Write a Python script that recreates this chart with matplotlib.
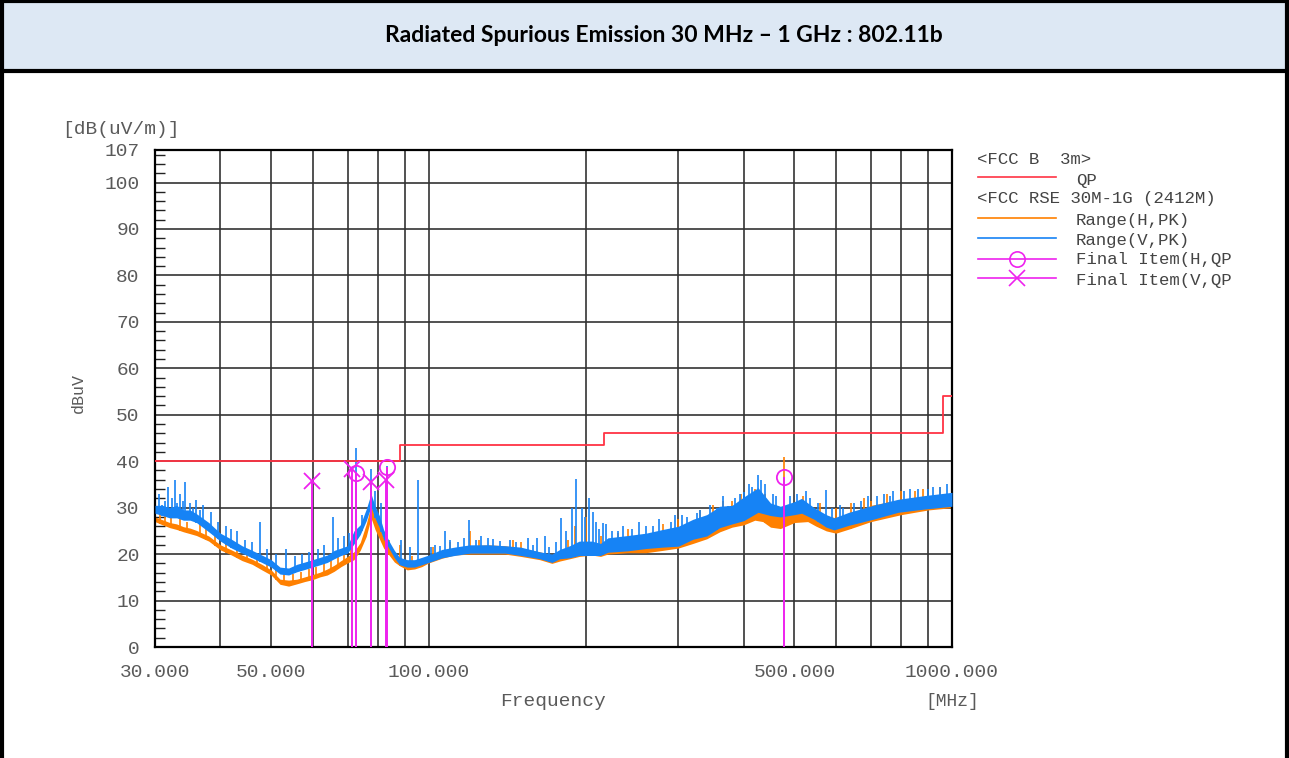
import matplotlib.pyplot as plt
import numpy as np
from matplotlib.lines import Line2D
from matplotlib.patches import Rectangle

# ---- limit line (FCC B 3m, QP) ----
lim_f = [30, 88, 216, 960, 1000]
lim_v = [40, 43.5, 46, 54, 54]

# ---- Range(H,PK) trace envelope ----
f_h = [30, 31, 32, 33, 34, 35, 36, 38, 40, 42, 44, 46, 48, 50, 52, 54, 56, 58, 60,
       62, 64, 66, 68, 70, 72, 74, 76, 77.6, 79, 80.5, 82, 84, 86, 88, 91, 94, 97,
       100, 106, 112, 120, 130, 140, 150, 163, 172, 178, 186, 194, 205, 213, 220,
       240, 260, 280, 300, 320, 340, 360, 380, 400, 420, 435, 450, 470, 500, 530,
       550, 575, 600, 640, 700, 800, 900, 1000]
lo_h = [27.0, 26.3, 25.7, 25.3, 24.8, 24.4, 24.0, 22.8, 20.9, 19.8, 18.6, 17.8, 16.6,
        15.5, 13.5, 13.1, 13.6, 14.1, 14.5, 15.1, 15.5, 16.3, 17.3, 18.1, 18.8, 20.8,
        23.8, 27.8, 25.3, 23.3, 21.3, 19.8, 18.3, 17.5, 16.6, 16.8, 17.3, 18.1, 19.1,
        19.8, 20.0, 20.0, 20.0, 19.5, 18.8, 18.0, 18.5, 19.0, 19.5, 19.8, 19.5, 20.0,
        20.3, 20.3, 20.8, 21.3, 22.3, 23.3, 24.8, 25.8, 26.3, 27.3, 27.0, 25.8, 25.5,
        26.8, 27.0, 26.0, 25.0, 24.5, 25.5, 27.0, 28.5, 29.5, 30.0]
hi_h = [28.0, 27.4, 26.8, 26.5, 25.9, 25.6, 25.1, 23.9, 22.0, 20.9, 19.8, 18.9, 17.8,
        16.6, 14.6, 14.4, 14.6, 15.1, 15.6, 16.1, 16.8, 17.6, 18.6, 19.5, 20.5, 22.5,
        26.5, 30.5, 28.0, 26.0, 23.5, 21.5, 20.0, 19.0, 18.0, 18.3, 18.5, 19.3, 20.5,
        21.2, 21.8, 22.0, 21.8, 21.3, 20.5, 19.8, 20.5, 21.3, 22.3, 22.3, 22.0, 23.0,
        23.5, 24.0, 24.5, 25.5, 26.8, 27.8, 29.3, 30.3, 31.3, 32.0, 31.7, 30.0, 29.0,
        30.5, 30.8, 29.5, 28.3, 27.8, 28.8, 30.5, 31.8, 32.5, 33.0]
spk_h_f = [30.7, 31.4, 32.2, 33.5, 34.6, 36.5, 37.5, 39, 41, 43, 45, 47, 49, 51, 53,
           55, 57, 59, 61, 63, 65, 67, 69, 71, 77.6, 84, 88, 93, 102, 110, 120, 125,
           145, 150, 185, 190, 200, 213, 230, 240, 280, 300, 330, 350, 365, 380, 395,
           420, 440, 477, 520, 560, 600, 640, 680, 700, 750, 800, 850, 880, 950, 1000]
spk_h_v = [29.2, 28.8, 28.0, 27.5, 27.0, 26.3, 25.8, 24.8, 22.5, 21.8, 20.5, 19.8,
           18.8, 17.5, 16.0, 15.8, 16.2, 16.8, 17.3, 17.8, 18.5, 19.5, 20.5, 21.5,
           31.5, 23.0, 22.0, 19.5, 21.5, 22.5, 25.0, 23.0, 23.0, 22.5, 23.0, 26.0,
           28.0, 24.0, 24.5, 25.5, 26.5, 27.5, 29.5, 30.5, 31.5, 31.5, 33.0, 34.0,
           33.0, 40.9, 32.5, 31.0, 30.0, 31.0, 32.0, 31.5, 33.0, 33.5, 33.5, 34.0,
           34.5, 34.2]

# ---- Range(V,PK) trace envelope ----
f_v = [30, 31, 32, 33, 34, 35, 36, 38, 40, 42, 44, 46, 48, 50, 52, 54, 56, 58, 60,
       62, 64, 66, 68, 70, 72, 74, 76, 77.6, 79, 80.5, 82, 84, 86, 88, 91, 94, 97,
       100, 106, 112, 120, 130, 140, 150, 163, 172, 178, 186, 194, 205, 213, 220,
       240, 260, 280, 300, 320, 340, 360, 380, 400, 426, 450, 470, 500, 516, 545,
       575, 595, 635, 707, 789, 886, 1000]
lo_v = [28.8, 28.3, 27.8, 27.8, 27.3, 27.3, 26.8, 24.8, 22.8, 21.3, 20.2, 19.2, 18.2,
        17.2, 15.7, 15.5, 16.2, 16.7, 17.2, 17.7, 18.2, 19.0, 19.7, 20.2, 22.2, 24.2,
        27.2, 30.2, 27.7, 25.7, 23.2, 21.2, 19.2, 17.7, 17.2, 17.2, 17.7, 18.2, 19.2,
        19.7, 20.2, 20.2, 20.2, 19.7, 19.0, 18.2, 19.0, 19.2, 19.7, 19.7, 19.7, 20.4,
        20.7, 21.2, 21.5, 21.7, 23.2, 23.9, 25.7, 26.5, 27.2, 29.0, 28.3, 28.0, 28.5,
        28.8, 27.5, 25.8, 25.2, 26.2, 27.5, 29.0, 29.7, 30.3]
hi_v = [30.5, 30.5, 30.0, 30.5, 29.5, 29.5, 28.7, 26.8, 24.5, 23.2, 21.8, 20.8, 19.8,
        18.8, 17.2, 17.0, 17.8, 18.3, 18.8, 19.3, 19.8, 20.8, 21.3, 21.8, 25.0, 26.3,
        29.7, 33.0, 30.3, 28.3, 25.3, 22.8, 20.8, 19.3, 18.8, 18.8, 19.3, 19.8, 21.0,
        21.5, 22.0, 22.0, 21.8, 21.5, 20.5, 20.0, 21.0, 21.8, 22.8, 22.8, 22.3, 23.5,
        24.0, 24.5, 25.3, 26.0, 27.5, 28.5, 30.3, 30.5, 32.3, 34.3, 31.0, 30.3, 31.3,
        32.0, 30.0, 28.5, 27.8, 29.0, 30.5, 31.8, 32.6, 33.3]
spk_v_f = [30.5, 31.0, 31.3, 31.8, 32.3, 32.7, 33.1, 33.5, 34.0, 34.3, 35.0, 35.5,
           36.0, 36.5, 37.0, 38.3, 39.5, 41, 42, 43, 44.5, 46, 47.6, 49, 51, 53.4,
           55.5, 57.2, 59, 61.5, 63, 65.7, 67, 69, 70.5, 72.5, 74.5, 77.6, 79, 81,
           83.2, 88.5, 92, 95.4, 101, 103, 105, 107.4, 110, 114, 117, 119.6, 123, 126,
           130, 133, 137, 143, 147, 154.6, 158, 161, 167, 170, 175, 179, 183, 188,
           191, 196, 199, 202.6, 206, 209, 212, 215, 218, 224, 230, 235, 245, 252,
           260, 268, 275, 290, 295, 305, 311, 325, 330, 345, 355, 365, 373, 385, 393,
           400, 410, 415, 426, 432, 440, 455, 462, 477, 490, 505, 525, 535, 555, 574,
           590, 610, 620, 650, 670, 690, 720, 740, 760, 770, 810, 830, 860, 900, 920,
           950, 980]
spk_v_v = [33.0, 30.5, 31.5, 34.4, 32.0, 36.0, 31.0, 33.0, 31.5, 35.5, 31.0, 30.0,
           31.6, 29.5, 30.5, 29.0, 27.0, 26.0, 25.5, 25.0, 23.0, 22.5, 27.0, 21.0,
           20.0, 21.0, 19.5, 20.0, 20.5, 21.0, 22.0, 28.0, 23.5, 24.0, 24.5, 42.8,
           28.5, 38.3, 33.5, 31.0, 39.0, 23.0, 21.5, 36.0, 21.5, 22.0, 21.8, 25.0,
           23.0, 22.5, 23.5, 27.3, 23.0, 24.0, 23.5, 23.2, 22.8, 23.0, 22.5, 23.5,
           22.0, 23.5, 24.0, 21.5, 22.5, 27.7, 25.0, 30.0, 36.1, 30.0, 28.0, 32.0,
           29.0, 27.0, 25.5, 26.7, 26.5, 25.0, 25.0, 26.0, 25.5, 27.0, 26.0, 26.0,
           27.5, 27.0, 28.5, 28.5, 28.0, 28.8, 29.5, 30.5, 30.0, 32.5, 30.3, 32.0,
           33.0, 33.4, 35.0, 34.5, 37.0, 36.0, 35.0, 33.0, 32.5, 35.5, 32.5, 33.0,
           33.5, 32.0, 31.0, 33.8, 30.0, 30.5, 30.0, 31.0, 31.5, 32.5, 32.5, 33.0,
           32.5, 33.5, 33.5, 34.0, 34.0, 34.0, 34.5, 34.5, 35.0]

# ---- Final items ----
fin_h_f = [72.6, 83.2, 477]
fin_h_v = [37.5, 38.8, 36.6]
fin_v_f = [59.9, 71.4, 77.6, 83.0]
fin_v_v = [35.8, 38.3, 35.6, 35.9]

c_red = '#ff3344'
c_org = '#ff8000'
c_blu = '#1683f5'
c_mag = '#ee22ee'
mono = 'Liberation Mono'

fig = plt.figure(figsize=(12.89, 7.58), dpi=100)

# header cell
fig.patches.append(Rectangle((0, 1 - 71 / 758), 1, 71 / 758, transform=fig.transFigure,
                             facecolor='#dde8f4', edgecolor='none', zorder=0))
for xs, ys, lw in [([0.0012, 0.0012], [0, 1], 3), ([0.9985, 0.9985], [0, 1], 3),
                   ([0, 1], [0.999, 0.999], 3), ([0, 1], [1 - 71 / 758, 1 - 71 / 758], 3)]:
    fig.add_artist(Line2D(xs, ys, transform=fig.transFigure, color='black', lw=lw))
fig.text(664 / 1289, 1 - 36 / 758, 'Radiated Spurious Emission 30 MHz \u2013 1 GHz : 802.11b',
         ha='center', va='center', fontsize=16.5, fontweight='bold', family='Lato')

ax = fig.add_axes([155 / 1289, 1 - 647 / 758, 797 / 1289, 497 / 758])

# traces
ax.fill_between(f_h, lo_h, hi_h, color=c_org, lw=0, zorder=2)
bh = np.interp(np.log(spk_h_f), np.log(f_h), lo_h)
ax.vlines(spk_h_f, bh, spk_h_v, color=c_org, lw=1.2, zorder=2)
ax.fill_between(f_v, lo_v, hi_v, color=c_blu, lw=0, zorder=3)
bv = np.interp(np.log(spk_v_f), np.log(f_v), lo_v)
ax.vlines(spk_v_f, bv, spk_v_v, color=c_blu, lw=1.2, zorder=3)

ax.step(lim_f, lim_v, where='post', color=c_red, lw=1.3, zorder=4)

ax.vlines(fin_h_f, 0, fin_h_v, color=c_mag, lw=1.4, zorder=5)
ax.vlines(fin_v_f, 0, fin_v_v, color=c_mag, lw=1.4, zorder=5)
ax.plot(fin_h_f, fin_h_v, 'o', ms=11, mfc='none', mec=c_mag, mew=1.3, zorder=6)
ax.plot(fin_v_f, fin_v_v, 'x', ms=12, mec=c_mag, mew=1.3, zorder=6)

ax.set_xscale('log')
ax.set_xlim(30, 1000)
ax.set_ylim(0, 107)

x_major = [30, 50, 100, 500, 1000]
x_minor = [40, 60, 70, 80, 90, 200, 300, 400, 600, 700, 800, 900]
ax.set_xticks(x_major)
ax.set_xticklabels(['%.3f' % v for v in x_major])
ax.set_xticks(x_minor, minor=True)
ax.set_xticklabels([], minor=True)
y_major = [0, 10, 20, 30, 40, 50, 60, 70, 80, 90, 100, 107]
ax.set_yticks(y_major)
ax.set_yticks(np.arange(0, 107, 2), minor=True)
ax.tick_params(axis='x', which='both', length=0, pad=12, labelsize=14, labelcolor='#5a5a5a')
ax.tick_params(axis='y', which='major', length=0, pad=11, labelsize=14, labelcolor='#5a5a5a')
ax.tick_params(axis='y', which='minor', direction='in', length=7, width=1, color='#222222',
               right=False)
for lab in ax.get_xticklabels() + ax.get_yticklabels():
    lab.set_family(mono)

ax.grid(which='both', axis='x', color='#333333', lw=1.2, zorder=1)
for yv in range(0, 101, 10):
    ax.axhline(yv, color='#333333', lw=1.2, zorder=1)
for s in ax.spines.values():
    s.set_linewidth(1.6)
    s.set_color('black')

# axis texts
fig.text(62 / 1289, 1 - 130 / 758, '[dB(uV/m)]', fontsize=14, family=mono,
         color='#5a5a5a', va='center')
fig.text(78 / 1289, 1 - 393 / 758, 'dBuV', fontsize=12, family=mono, color='#5a5a5a',
         rotation=90, ha='center', va='center')
fig.text(553 / 1289, 1 - 701 / 758, 'Frequency', fontsize=14, family=mono,
         color='#5a5a5a', ha='center', va='center')
fig.text(952 / 1289, 1 - 701 / 758, '[MHz]', fontsize=13, family=mono,
         color='#5a5a5a', ha='center', va='center')

# legend
leg_txt = [(977, 159, '<FCC B  3m>'), (1076, 180, 'QP'),
           (977, 199, '<FCC RSE 30M-1G (2412M) '), (1076, 220, 'Range(H,PK)'),
           (1076, 240, 'Range(V,PK)'), (1076, 260, 'Final Item(H,QP'),
           (1076, 280, 'Final Item(V,QP')]
for px, py, t in leg_txt:
    fig.text(px / 1289, 1 - py / 758, t, fontsize=12.5, family=mono, color='#444444',
             va='center')
leg_lines = [(177, c_red, None), (218, c_org, None), (238, c_blu, None),
             (259, c_mag, 'o'), (278, c_mag, 'x')]
for py, col, mk in leg_lines:
    yy = 1 - py / 758
    fig.add_artist(Line2D([978 / 1289, 1056 / 1289], [yy, yy], transform=fig.transFigure,
                          color=col, lw=1.2))
    if mk:
        fig.add_artist(Line2D([1017 / 1289], [yy], transform=fig.transFigure, marker=mk,
                              ms=11, mfc='none', mec=col, mew=1.2, ls='none'))

fig.savefig('out.png', dpi=100)
